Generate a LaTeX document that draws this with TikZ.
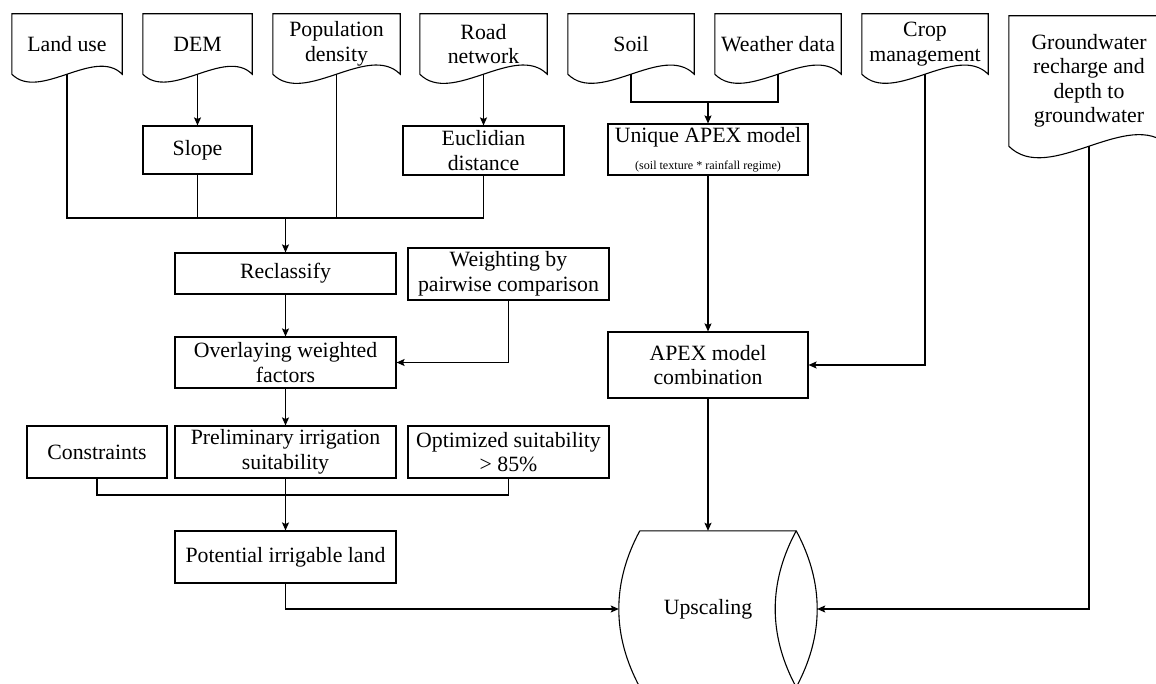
\documentclass[tikz,border=0pt]{standalone}
\usepackage{fontspec}
\setmainfont{Liberation Serif}
\usetikzlibrary{arrows.meta,calc,positioning}

% data sheet outline with a wavy lower edge
\newcommand{\docshape}[1]{%
  \coordinate (#1-r) at ($(#1.south)!0.5!(#1.south east)$);
  \coordinate (#1-l) at ($(#1.south)!0.5!(#1.south west)$);
  \draw[line] (#1.south west) -- (#1.north west) -- (#1.north east) -- (#1.south east)
    .. controls ($(#1-r)!1!90:(#1.south east)$) and ($(#1-l)!1!90:(#1.south west)$) .. (#1.south west) -- cycle;}

\begin{document}
\begin{tikzpicture}[
    x=1pt, y=-1pt,
    font=\fontsize{21.8}{24.5}\selectfont,
    line/.style={line width=1.1pt, black},
    arr/.style={line, -{Stealth[length=8pt,width=7pt,inset=1.5pt]}},
    box/.style={rectangle, draw, line width=1.1pt, inner sep=2pt, align=center,
                minimum height=48pt},
    docbox/.style={rectangle, inner sep=2pt, align=center, minimum height=60pt}
]
\useasboundingbox (0,0) rectangle (1156,684);

\node[docbox, minimum width=110pt] (landuse) at (67,44) {Land use};
\node[docbox, minimum width=109pt] (dem) at (197.5,44) {DEM};
\node[docbox, minimum width=127pt] (popden) at (336.5,44) {Population\\density};
\node[docbox, minimum width=127pt] (road) at (483.5,44) {Road\\network};
\node[docbox, minimum width=126pt] (soil) at (631,44) {Soil};
\node[docbox, minimum width=126pt] (weather) at (778,44) {Weather data};
\node[docbox, minimum width=126pt] (crop) at (925,44) {Crop\\management};
\node[docbox, minimum width=160pt, minimum height=130pt] (gw) at (1089,81) {Groundwater\\recharge and\\depth to\\groundwater};

\foreach \d in {landuse,dem,popden,road,soil,weather,crop,gw}{\docshape{\d}}

\node[box, minimum width=109pt] (slope) at (197.5,150) {Slope};
\node[box, minimum width=161pt, minimum height=49pt] (eucl) at (483.5,150.5) {Euclidian\\distance};
\node[box, minimum width=200pt, minimum height=51pt] (apex) at (708,149.5) {Unique APEX model\\[2pt]{\fontsize{12.1}{14}\selectfont (soil texture * rainfall regime)}};

\node[box, minimum width=221pt, minimum height=41pt] (reclass) at (285.5,273.5) {Reclassify};
\node[box, minimum width=201pt, minimum height=52pt] (weight) at (508.5,274) {Weighting by\\pairwise comparison};
\node[box, minimum width=221pt, minimum height=51pt] (overlay) at (285.5,362.5) {Overlaying weighted\\factors};
\node[box, minimum width=200pt, minimum height=66pt] (apexcomb) at (708,365) {APEX model\\combination};

\node[box, minimum width=140pt, minimum height=52pt] (constr) at (97,452) {Constraints};
\node[box, minimum width=221pt, minimum height=52pt] (prelim) at (285.5,452) {Preliminary irrigation\\suitability};
\node[box, minimum width=201pt, minimum height=52pt] (optim) at (508.5,452) {Optimized suitability\\> 85\%};
\node[box, minimum width=221pt, minimum height=52pt] (potential) at (285.5,557) {Potential irrigable land};

\node[minimum width=198pt, minimum height=156pt, inner sep=0pt,
      label={[xshift=-10pt]center:Upscaling}] (upscale) at (718,609) {};
\coordinate (ctl) at ([xshift=21pt]upscale.north west);
\coordinate (ctr) at ([xshift=-21pt]upscale.north east);
\coordinate (cbl) at ([xshift=21pt]upscale.south west);
\coordinate (cbr) at ([xshift=-21pt]upscale.south east);
\draw[line] (ctl) -- (ctr) .. controls +(28,52) and +(28,-52) .. (cbr) -- (cbl)
  .. controls +(-28,-52) and +(-28,52) .. (ctl);
\draw[line] (ctr) .. controls +(-28,52) and +(-28,-52) .. (cbr);

\coordinate (lujoin) at (285.5,218);
\coordinate (swjoin) at (708,102);
\coordinate (cjoin) at (285.5,495);

\draw[arr] (dem) -- (slope);
\draw[arr] (road) -- (eucl);
\draw[line] (landuse.south) |- (lujoin) -| (eucl.south);
\draw[line] (slope) -- (slope |- lujoin);
\draw[line] (popden) -- (popden |- lujoin);
\draw[arr] (lujoin) -- (reclass);
\draw[arr] (reclass) -- (overlay);
\draw[arr] (weight.south) |- (overlay.east);
\draw[arr] (overlay) -- (prelim);
\draw[line] (constr.south) |- (cjoin) -| (optim.south);
\draw[arr] (prelim) -- (potential);
\draw[arr] (potential.south) |- (upscale.west);

\draw[line] (soil.south) |- (swjoin) -| (weather.south);
\draw[arr] (swjoin) -- (apex);
\draw[arr] (apex) -- (apexcomb);
\draw[arr] (crop.south) |- (apexcomb.east);
\draw[arr] (apexcomb) -- (apexcomb |- upscale.north);
\draw[arr] (gw.south) |- (upscale.east);

\end{tikzpicture}
\end{document}
